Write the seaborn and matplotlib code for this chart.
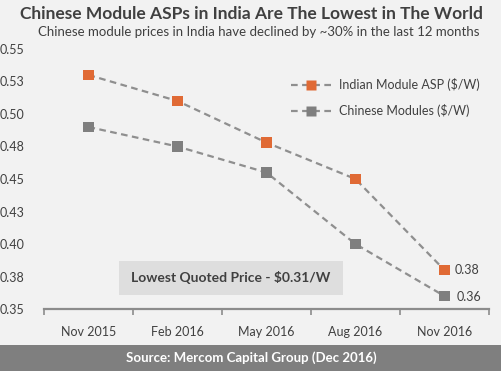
import matplotlib
matplotlib.use("Agg")
import matplotlib.pyplot as plt
from matplotlib.lines import Line2D
from matplotlib.patches import Rectangle
import seaborn as sns
import pandas as pd
import numpy as np

categories = ["Nov 2015", "Feb 2016", "May 2016", "Aug 2016", "Nov 2016"]
indian_asp = [0.530, 0.510, 0.478, 0.450, 0.380]
chinese_modules = [0.490, 0.475, 0.455, 0.400, 0.360]
series_names = ["Indian Module ASP ($/W)", "Chinese Modules ($/W)"]
y_ticks = [0.35, 0.375, 0.40, 0.425, 0.45, 0.475, 0.50, 0.525, 0.55]
y_tick_labels = ["0.35", "0.38", "0.40", "0.43", "0.45", "0.48", "0.50", "0.53", "0.55"]
end_labels = ["0.38", "0.36"]

BG = "#f2f2f2"
TXT = "#404040"
ORANGE = "#e06a35"
GREY = "#7f7f7f"
LINE = "#8f8f8f"

sns.set_theme(style="white")
plt.rcParams["font.family"] = ["Lato", "DejaVu Sans"]

df = pd.DataFrame({
    "period": categories * 2,
    "pos": list(range(len(categories))) * 2,
    "value": indian_asp + chinese_modules,
    "series": [series_names[0]] * len(categories) + [series_names[1]] * len(categories),
})

fig = plt.figure(figsize=(5.02, 3.71), dpi=100, facecolor=BG)
ax = fig.add_axes([0.0876, 0.167, 0.8864, 0.701])
ax.set_facecolor(BG)

palette = {series_names[0]: ORANGE, series_names[1]: GREY}
for name in series_names:
    sub = df[df["series"] == name]
    sns.lineplot(data=sub, x="pos", y="value", ax=ax, color=LINE,
                 linestyle=(0, (3, 2)), linewidth=1.6, legend=False, zorder=2)
    sns.scatterplot(data=sub, x="pos", y="value", ax=ax, color=palette[name],
                    marker="s", s=60, edgecolor="none", legend=False, zorder=3)

ax.set_xlim(-0.5, len(categories) - 0.5)
ax.set_ylim(0.35, 0.55)
ax.set_yticks(y_ticks)
ax.set_yticklabels(y_tick_labels, fontsize=9, color=TXT)
ax.set_xticks(range(len(categories)))
ax.set_xticklabels(categories, fontsize=9, color=TXT)
ax.set_xticks(np.arange(-0.5, len(categories), 1.0), minor=True)
ax.tick_params(axis="x", which="both", bottom=True)
ax.tick_params(axis="x", which="major", length=0, pad=12)
ax.tick_params(axis="x", which="minor", length=4, width=1.2, color="#8c8c8c", direction="out")
ax.tick_params(axis="y", length=0, pad=14)
ax.set_xlabel("")
ax.set_ylabel("")
for s in ["top", "right", "left"]:
    ax.spines[s].set_visible(False)
ax.spines["bottom"].set_color("#8c8c8c")
ax.spines["bottom"].set_linewidth(1.6)
ax.grid(False)

# data labels on last points
ax.annotate(end_labels[0], (len(categories) - 1, indian_asp[-1]),
            xytext=(7, 0), textcoords="offset points", va="center", ha="left",
            fontsize=9, color=TXT)
ax.annotate(end_labels[1], (len(categories) - 1, chinese_modules[-1]),
            xytext=(9, -1), textcoords="offset points", va="center", ha="left",
            fontsize=9, color=TXT)

# legend
handles = [
    Line2D([0], [0], color=LINE, linestyle=(0, (3, 2)), linewidth=1.6,
           marker="s", markersize=7, markerfacecolor=ORANGE, markeredgecolor="none"),
    Line2D([0], [0], color=LINE, linestyle=(0, (3, 2)), linewidth=1.6,
           marker="s", markersize=7, markerfacecolor=GREY, markeredgecolor="none"),
]
leg = ax.legend(handles, series_names, loc="upper left", bbox_to_anchor=(0.53, 0.93),
                frameon=False, fontsize=9, handlelength=3.2, labelspacing=1.0,
                handletextpad=0.6)
for t in leg.get_texts():
    t.set_color(TXT)

# annotation box
fig.patches.append(Rectangle((119 / 502, 1 - 295 / 371), 224 / 502, 34 / 371,
                             transform=fig.transFigure, facecolor="#dedede",
                             edgecolor="none", zorder=1))
fig.text(231 / 502, 1 - 278 / 371, "Lowest Quoted Price - $0.31/W", ha="center",
         va="center", fontsize=10, fontweight="bold", color=TXT)

# titles
fig.text(0.5, 1 - 14 / 371, "Chinese Module ASPs in India Are The Lowest in The World",
         ha="center", va="center", fontsize=12.5, fontweight="bold", color=TXT)
fig.text(0.515, 1 - 32 / 371, "Chinese module prices in India have declined by ~30% in the last 12 months",
         ha="center", va="center", fontsize=9.5, color=TXT)

# footer band
fig.patches.append(Rectangle((0, 0), 1, 26 / 371, transform=fig.transFigure,
                             facecolor="#7f7f7f", edgecolor="none", zorder=0))
fig.text(0.5, 13 / 371, "Source: Mercom Capital Group (Dec 2016)", ha="center",
         va="center", fontsize=9.5, fontweight="bold", color="white")

fig.savefig("out.png", dpi=100, facecolor=BG)
